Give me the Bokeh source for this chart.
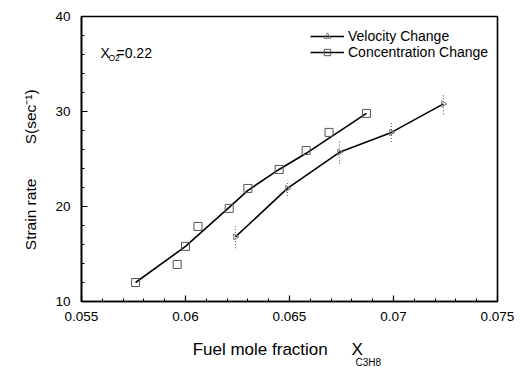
import math
from bokeh.plotting import figure
from bokeh.models import (Range1d, FixedTicker, Label, Legend, LegendItem)
from bokeh.embed import file_html
from bokeh.resources import INLINE

# ---- data ----
conc_x = [0.0576, 0.0596, 0.0600, 0.0606, 0.0621, 0.0630, 0.0645, 0.0658, 0.0669, 0.0687]
conc_y = [12, 13.9, 15.8, 17.9, 19.8, 21.9, 23.9, 25.9, 27.8, 29.8]
conc_fit_x = [0.0576, 0.0600, 0.0621, 0.0630, 0.0645, 0.0658, 0.0687]
conc_fit_y = [12, 15.8, 19.9, 21.7, 23.9, 25.6, 29.8]

vel_x = [0.0624, 0.0649, 0.0674, 0.0699, 0.0724]
vel_y = [16.8, 21.9, 25.7, 27.8, 30.8]
vel_err = [1.2, 0.8, 1.2, 1.0, 1.1]

x_ticks = [0.055, 0.06, 0.065, 0.07, 0.075]
x_tick_labels = ["0.055", "0.06", "0.065", "0.07", "0.075"]
x_minor = [0.055 + 0.001 * i for i in range(21)]
y_ticks = [10, 20, 30, 40]
y_minor = list(range(10, 41, 2))

NB = "\u00a0"
x_title = "Fuel mole fraction" + NB * 5 + "X" + NB * 5
x_title_sub = "C3H8"
y_title = "Strain rate" + NB * 8 + "S(sec\u207b\u00b9)" + NB * 5

W, H = 521, 367
FONT = "Liberation Sans"
X0, X1, Y0, Y1 = 0.055, 0.075, 10, 40
FL, FR, FT, FB = 81, 497, 16, 301   # frame edges on the canvas (px)

p = figure(width=W, height=H, output_backend="svg", toolbar_location=None,
           x_range=Range1d(X0, X1), y_range=Range1d(Y0, Y1),
           min_border_left=FL, min_border_right=W - FR, min_border_top=FT,
           min_border_bottom=H - FB)
p.background_fill_color = "white"
p.border_fill_color = "white"
p.grid.visible = False
p.outline_line_color = "black"
p.outline_line_width = 1.6

for ax in (p.xaxis[0], p.yaxis[0]):
    ax.axis_line_width = 1.6
    ax.axis_line_color = "black"
    ax.major_tick_in = 6
    ax.major_tick_out = 0
    ax.minor_tick_in = 3
    ax.minor_tick_out = 0
    ax.major_tick_line_width = 1.2
    ax.minor_tick_line_width = 1
    ax.major_label_text_font = FONT
    ax.major_label_text_font_size = "13.5px"
    ax.major_label_text_color = "black"
    ax.axis_label_text_font = FONT
    ax.axis_label_text_font_style = "normal"
    ax.axis_label_text_color = "black"

p.xaxis[0].major_label_standoff = 10
p.yaxis[0].major_label_standoff = 11
p.xaxis[0].ticker = FixedTicker(ticks=x_ticks, minor_ticks=x_minor)
p.xaxis[0].major_label_overrides = {t: s for t, s in zip(x_ticks, x_tick_labels)}
p.yaxis[0].ticker = FixedTicker(ticks=y_ticks, minor_ticks=y_minor)

p.xaxis[0].axis_label = x_title
p.xaxis[0].axis_label_text_font_size = "17px"
p.xaxis[0].axis_label_standoff = 16

p.yaxis[0].axis_label = y_title
p.yaxis[0].axis_label_text_font_size = "15.5px"
p.yaxis[0].axis_label_standoff = 13

# ---- concentration change ----
r_cl = p.line(conc_fit_x, conc_fit_y, line_color="black", line_width=1.6)
r_cs = p.scatter(conc_x, conc_y, marker="square", size=8, line_color="#555555",
                 fill_color=None, line_width=1)

# ---- velocity change ----
lo = [v - e for v, e in zip(vel_y, vel_err)]
hi = [v + e for v, e in zip(vel_y, vel_err)]
p.segment(x0=vel_x, y0=lo, x1=vel_x, y1=hi, line_color="#666666", line_width=1.2,
          line_dash="1 2")
r_vl = p.line(vel_x, vel_y, line_color="black", line_width=1.6)
r_vs = p.scatter(vel_x, vel_y, marker="triangle", size=6, angle=-math.pi / 2,
                 line_color="#777777", fill_color=None, line_width=1)

legend = Legend(items=[LegendItem(label="Velocity Change", renderers=[r_vl, r_vs]),
                       LegendItem(label="Concentration Change", renderers=[r_cl, r_cs])],
                location=(229, 241), glyph_width=34, glyph_height=16, label_height=16,
                label_standoff=4, padding=4, spacing=0, margin=0,
                border_line_color=None, background_fill_alpha=0,
                label_text_font=FONT, label_text_font_size="14px", label_text_color="black")
p.add_layout(legend)


def lab(text, px, py, size):
    # screen units: relative to the frame's bottom-left corner
    p.add_layout(Label(x=px - FL, y=FB - py, x_units="screen", y_units="screen", text=text,
                       text_font=FONT, text_font_size=size, text_color="black",
                       text_align="left", text_baseline="alphabetic"))


# subscript of the x title: lies outside the frame, so it goes into a side panel
# and is placed with the plot's own scales
sx = X0 + (355 - FL) / (FR - FL) * (X1 - X0)
sy = Y0 - (362 - FB) / (FB - FT) * (Y1 - Y0)
p.add_layout(Label(x=sx, y=sy, text=x_title_sub, text_font=FONT, text_font_size="10px",
                   text_color="black", text_align="left", text_baseline="alphabetic"),
             "above")

# annotation X_O2 = 0.22
lab("X", 100, 52, "14px")
lab("O2", 108, 57, "8.5px")
lab("=0.22", 116, 52, "14px")

open("out.html", "w").write(file_html(p, INLINE))
